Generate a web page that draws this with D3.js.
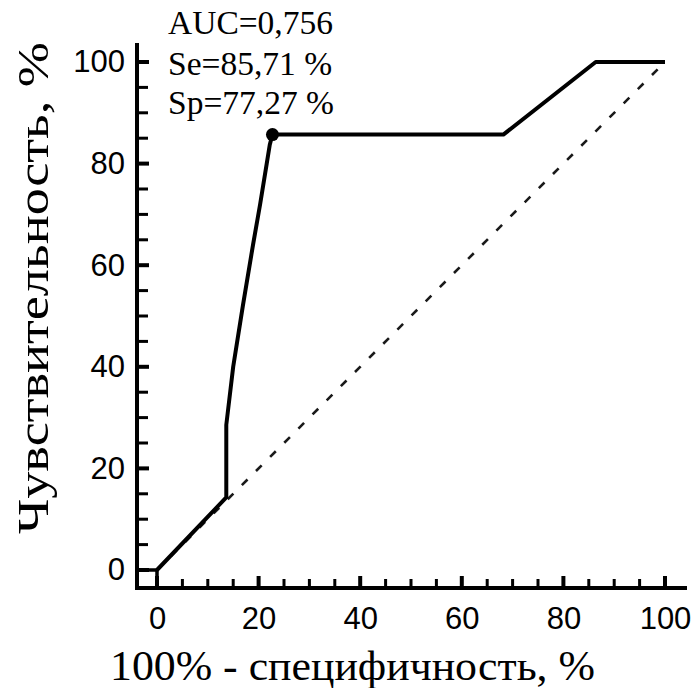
<!DOCTYPE html>
<html>
<head>
<meta charset="utf-8">
<script src="https://cdn.jsdelivr.net/npm/d3@7"></script>
<style>
  html, body { margin: 0; padding: 0; background: #fff; }
  svg { display: block; }
</style>
</head>
<body>
<svg id="chart" width="697" height="688"></svg>
<script>
// ---- data ----
const rocFpr = [0, 13.64, 13.64, 15.0, 16.9, 18.9, 20.3, 21.6, 22.2, 22.73, 68.18, 86.36, 100];
const rocTpr = [0, 14.29, 28.57, 40.0, 52.0, 64.0, 72.0, 80.0, 83.7, 85.71, 85.71, 100, 100];
const cutFpr = [22.73];
const cutTpr = [85.71];
const diagFpr = [0, 100];
const diagTpr = [0, 100];
const majorTicks = [0, 20, 40, 60, 80, 100];
const minorTicks = [5, 10, 15, 25, 30, 35, 45, 50, 55, 65, 70, 75, 85, 90, 95];
const statLines = ["AUC=0,756", "Se=85,71 %", "Sp=77,27 %"];
const xTitle = "100% - специфичность, %";
const yTitle = "Чувствительность, %";

// ---- layout ----
const svg = d3.select("#chart");
const x = d3.scaleLinear().domain([0, 100]).range([157, 665]);
const y = d3.scaleLinear().domain([0, 100]).range([570, 62]);
const axisX0 = 137;   // y-axis line position
const axisY0 = 588;   // x-axis line position

const serif = "'Liberation Serif', 'Times New Roman', serif";
const sans = "'Liberation Sans', Arial, sans-serif";

// diagonal reference
svg.append("path")
  .attr("d", d3.line().x(d => x(d[0])).y(d => y(d[1]))(diagFpr.map((v, i) => [v, diagTpr[i]])))
  .attr("fill", "none")
  .attr("stroke", "#1a1a1a")
  .attr("stroke-width", 2.6)
  .attr("stroke-dasharray", "8,12");

// tick labels through d3 axes
const yAxis = d3.axisLeft(y).tickValues(majorTicks).tickSize(0).tickPadding(12).tickFormat(d3.format("d"));
const xAxis = d3.axisBottom(x).tickValues(majorTicks).tickSize(0).tickPadding(19).tickFormat(d3.format("d"));
function styleAxis(g) {
  g.select(".domain").remove();
  g.selectAll(".tick line").remove();
  g.selectAll(".tick text").attr("fill", "#000").style("font-family", sans).style("font-size", "31px");
}
svg.append("g").attr("transform", `translate(${axisX0},0)`).call(yAxis).call(styleAxis);
svg.append("g").attr("transform", `translate(0,${axisY0})`).call(xAxis).call(styleAxis);

// axis lines (extended beyond data range)
svg.append("line").attr("x1", axisX0).attr("x2", axisX0)
  .attr("y1", y(100) - 19).attr("y2", axisY0 + 2)
  .attr("stroke", "#000").attr("stroke-width", 4);
svg.append("line").attr("x1", axisX0 - 2).attr("x2", x(100) + 22)
  .attr("y1", axisY0).attr("y2", axisY0)
  .attr("stroke", "#000").attr("stroke-width", 4);

// ticks (pointing inward)
const tickG = svg.append("g").attr("class", "ticks");
minorTicks.forEach(d => {
  tickG.append("rect").attr("x", axisX0).attr("y", y(d) - 1.5).attr("width", 11).attr("height", 3).attr("fill", "#000");
  tickG.append("rect").attr("x", x(d) - 1.5).attr("y", axisY0 - 9).attr("width", 3).attr("height", 9).attr("fill", "#000");
});
majorTicks.forEach(d => {
  tickG.append("rect").attr("x", axisX0).attr("y", y(d) - 2).attr("width", 12).attr("height", 4).attr("fill", "#000");
  tickG.append("rect").attr("x", x(d) - 2).attr("y", axisY0 - 12).attr("width", 4).attr("height", 12).attr("fill", "#000");
});

// origin connectors to axes
svg.append("path")
  .attr("d", `M${axisX0},${y(0)}H${x(0)}V${axisY0}`)
  .attr("fill", "none").attr("stroke", "#000").attr("stroke-width", 3.5);

// ROC curve
svg.append("path")
  .attr("d", d3.line().x(d => x(d[0])).y(d => y(d[1]))(rocFpr.map((v, i) => [v, rocTpr[i]])))
  .attr("fill", "none")
  .attr("stroke", "#000")
  .attr("stroke-width", 4)
  .attr("stroke-linejoin", "round");

// cut-off point
svg.selectAll(".cut").data(cutFpr).enter().append("circle")
  .attr("cx", d => x(d)).attr("cy", (d, i) => y(cutTpr[i])).attr("r", 6.5).attr("fill", "#000");

// stats text
const baselines = [34, 75, 114];
svg.selectAll(".stat").data(statLines).enter().append("text")
  .attr("x", 168).attr("y", (d, i) => baselines[i])
  .style("font-family", serif).style("font-size", "33.5px").attr("fill", "#000")
  .text(d => d);

// axis titles
svg.append("text")
  .attr("x", 110).attr("y", 680)
  .attr("textLength", 485).attr("lengthAdjust", "spacingAndGlyphs")
  .style("font-family", serif).style("font-size", "42px").attr("fill", "#000")
  .text(xTitle);

svg.append("text")
  .attr("transform", "translate(48,288) rotate(-90)")
  .attr("text-anchor", "middle")
  .attr("textLength", 492).attr("lengthAdjust", "spacingAndGlyphs")
  .style("font-family", serif).style("font-size", "45px").attr("fill", "#000")
  .text(yTitle);
</script>
</body>
</html>
